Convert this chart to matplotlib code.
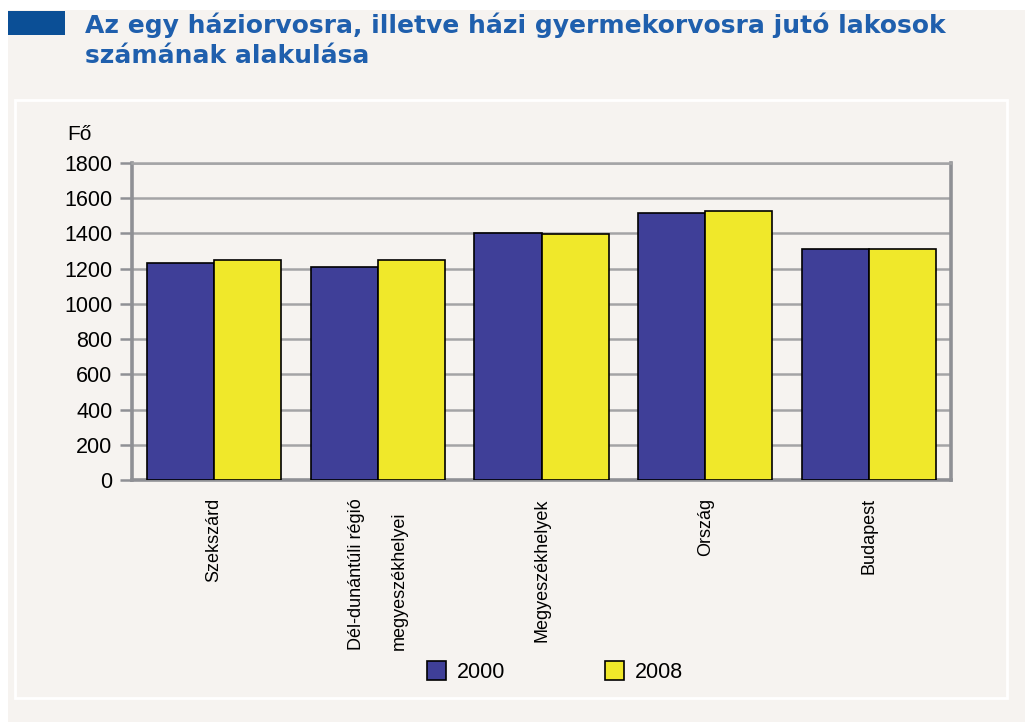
import numpy as np
import matplotlib
matplotlib.use('Agg')
import matplotlib.pyplot as plt
from matplotlib.patches import Rectangle, Patch

plt.rcParams['font.family'] = ['Liberation Sans', 'DejaVu Sans']

# data
categories = ['Szekszárd', 'Dél-dunántúli régió\nmegyeszékhelyei', 'Megyeszékhelyek',
              'Ország', 'Budapest']
years = ['2000', '2008']
v2000 = [1235, 1210, 1400, 1515, 1310]
v2008 = [1250, 1250, 1397, 1525, 1310]
yticks = list(range(0, 1801, 200))

BG = '#f6f3f0'
BLUE = '#3f3f98'
YELLOW = '#f0e82a'
GRID = '#a4a4a6'
AXC = '#8f9095'
TITLE_C = '#1f5fad'

fig = plt.figure(figsize=(10.25, 7.22), dpi=100)
fig.patch.set_facecolor('white')

# page background, header marker and the white-edged panel
fig.add_artist(Rectangle((8 / 1025, 0), 1, 1 - 10 / 722, transform=fig.transFigure,
                         fc=BG, ec='none', zorder=0))
fig.add_artist(Rectangle((8 / 1025, 1 - 35 / 722), 57 / 1025, 24 / 722,
                         transform=fig.transFigure, fc='#0b4f96', ec='none', zorder=1))
fig.add_artist(Rectangle((15 / 1025, 1 - 698 / 722), 992 / 1025, 598 / 722,
                         transform=fig.transFigure, fc='none', ec='white', lw=2, zorder=1))
fig.text(85 / 1025, 1 - 12 / 722,
         'Az egy háziorvosra, illetve házi gyermekorvosra jutó lakosok\nszámának alakulása',
         ha='left', va='top', fontsize=18, fontweight='bold', color=TITLE_C,
         family='DejaVu Sans', linespacing=1.32)

ax = fig.add_axes([132 / 1025, 1 - 480 / 722, 819 / 1025, 317 / 722])
ax.set_facecolor(BG)
x = np.arange(len(categories))
w = 0.41
ax.bar(x - w / 2, v2000, w, color=BLUE, edgecolor='black', lw=1.2, zorder=3, label=years[0])
ax.bar(x + w / 2, v2008, w, color=YELLOW, edgecolor='black', lw=1.2, zorder=3, label=years[1])

ax.set_xlim(-0.5, len(categories) - 0.5)
ax.set_ylim(0, 1800)
ax.set_yticks(yticks)
ax.yaxis.grid(True, color=GRID, lw=1.8, zorder=1)
ax.set_axisbelow(True)
for sp in ax.spines.values():
    sp.set_color(AXC)
    sp.set_linewidth(2.6)
ax.spines['top'].set_linewidth(1.8)
ax.spines['top'].set_color(GRID)
ax.tick_params(axis='y', length=9, width=1.8, color=AXC, labelsize=15.5, pad=5)
ax.set_xticks(x)
ax.set_xticklabels(categories, rotation=90, ha='center', va='top', fontsize=13)
for lab in ax.get_xticklabels():
    lab.set_multialignment('left')
    lab.set_linespacing(3.0)
ax.tick_params(axis='x', length=0, pad=13)

fig.text(67 / 1025, 1 - 140 / 722, 'Fő', fontsize=15, ha='left', va='baseline')

handles = [Patch(fc=BLUE, ec='black', lw=1.2), Patch(fc=YELLOW, ec='black', lw=1.2)]
fig.legend(handles, years, loc='center', bbox_to_anchor=(555 / 1025, 1 - 672 / 722),
           ncol=2, frameon=False, prop={'size': 15.5},
           handlelength=0.9, handleheight=1.0, handletextpad=0.5, columnspacing=4.6)

fig.savefig('out.png', dpi=100, facecolor=fig.get_facecolor())
